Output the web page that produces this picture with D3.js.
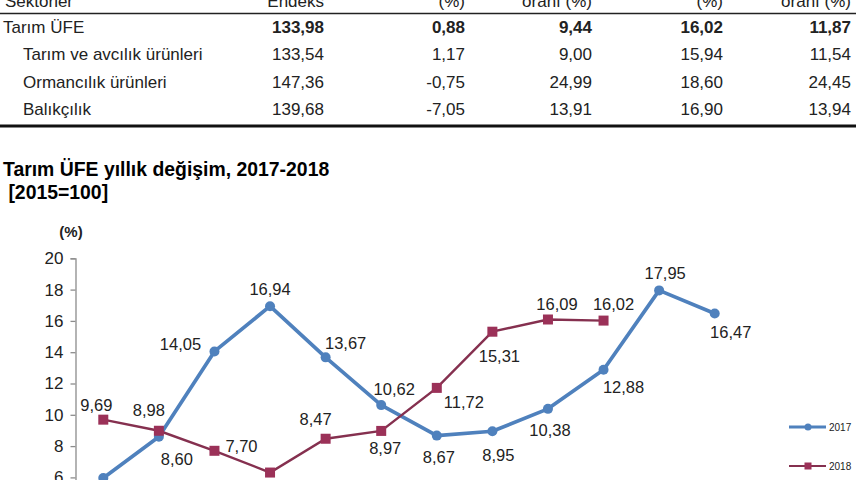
<!DOCTYPE html>
<html><head><meta charset="utf-8">
<script src="https://cdn.jsdelivr.net/npm/d3@7"></script>
<style>
html,body{margin:0;padding:0;background:#fff;overflow:hidden;}
svg{display:block;font-family:"Liberation Sans",Arial,sans-serif;}
</style></head>
<body><svg id="c" width="860" height="480"></svg>
<script>
// ---- table data ----
const tableHeaders = ["Sektörler","Endeks","(%)","oranı (%)","(%)","oranı (%)"];
const tableRows = ["Tarım ÜFE","Tarım ve avcılık ürünleri","Ormancılık ürünleri","Balıkçılık"];
const colEndeks   = ["133,98","133,54","147,36","139,68"];
const colAylik    = ["0,88","1,17","-0,75","-7,05"];
const colAralik   = ["9,44","9,00","24,99","13,91"];
const colYillik   = ["16,02","15,94","18,60","16,90"];
const colOrtalama = ["11,87","11,54","24,45","13,94"];

// ---- chart data ----
const title1 = "Tarım ÜFE yıllık değişim, 2017-2018";
const title2 = " [2015=100]";
const months = ["Ocak","Şubat","Mart","Nisan","Mayıs","Haziran","Temmuz","Ağustos","Eylül","Ekim","Kasım","Aralık"];
const values2017 = [5.96,8.60,14.05,16.94,13.67,10.62,8.67,8.95,10.38,12.88,17.95,16.47];
const values2018 = [9.69,8.98,7.70,6.31,8.47,8.97,11.72,15.31,16.09,16.02];
const yTicks = [0,2,4,6,8,10,12,14,16,18,20];
const seriesNames = ["2017","2018"];

// label placement (offsets of label centre from the point), separate from data
const off2017 = [[0,24],[18,23],[-34,-7],[0,-17],[20,-14],[13,-16],[2,22],[6,24],[2,21],[20,17],[6,-17],[16,19]];
const off2018 = [[-7,-14],[-10,-21],[27,-5],[0,24],[-10,-20],[4,17],[27,14],[7,25],[9,-15],[10,-16]];

const svg = d3.select("#c");
svg.append("rect").attr("width",860).attr("height",480).attr("fill","#fff");

// ---- table ----
const tg = svg.append("g").attr("font-size",17).attr("fill","#111");
const colEnds = [null,324,465,592,723,851];
tableHeaders.forEach((h,i)=>{
  tg.append("text").attr("x", i===0?5:colEnds[i]).attr("y",7)
    .attr("text-anchor", i===0?"start":"end").attr("fill","#222").text(h);
});
tg.append("line").attr("x1",0).attr("x2",856).attr("y1",13.5).attr("y2",13.5).attr("stroke","#222").attr("stroke-width",1.5);
const rowY = [33,60,88,115];
const cols = [colEndeks,colAylik,colAralik,colYillik,colOrtalama];
tableRows.forEach((r,ri)=>{
  tg.append("text").attr("x", ri===0?3:23).attr("y",rowY[ri]).attr("fill","#222").text(r);
  cols.forEach((col,ci)=>{
    tg.append("text").attr("x",colEnds[ci+1]).attr("y",rowY[ri]).attr("text-anchor","end")
      .attr("font-weight", ri===0?"bold":"normal").attr("fill","#222").text(col[ri]);
  });
});
tg.append("line").attr("x1",0).attr("x2",856).attr("y1",126).attr("y2",126).attr("stroke","#111").attr("stroke-width",3);

// ---- titles ----
svg.append("text").attr("x",3).attr("y",176).attr("font-size",19.4).attr("font-weight","bold").attr("fill","#000").text(title1);
svg.append("text").attr("x",3).attr("y",199).attr("font-size",19.4).attr("font-weight","bold").attr("fill","#000").attr("xml:space","preserve").style("white-space","pre").text(title2);

// ---- chart ----
const x = d3.scaleBand().domain(months).range([75.5, 742.5]).padding(0);
const y = d3.scaleLinear().domain([0,20]).range([571.3, 258.3]);
const cx = m => x(m) + x.bandwidth()/2;

svg.append("text").attr("x",71).attr("y",237).attr("text-anchor","middle").attr("font-size",15).attr("font-weight","bold").attr("fill","#222").text("(%)");

const yAxis = d3.axisLeft(y).tickValues(yTicks).tickSize(5).tickPadding(7).tickFormat(d3.format("d"));
const ga = svg.append("g").attr("transform","translate(75.5,0)").call(yAxis);
ga.select(".domain").attr("stroke","#8c8c8c").attr("stroke-width",1.3);
ga.selectAll(".tick line").attr("stroke","#8c8c8c").attr("stroke-width",1.3);
ga.selectAll(".tick text").attr("font-size",17).attr("fill","#222").attr("font-family","Liberation Sans, Arial, sans-serif");

const c17 = "#4f81bd", c18 = "#9b3158", c18line = "#85304f";
const d17 = values2017.map((v,i)=>({m:months[i],v,o:off2017[i]}));
const d18 = values2018.map((v,i)=>({m:months[i],v,o:off2018[i]}));
const line = d3.line().x(d=>cx(d.m)).y(d=>y(d.v));

svg.append("path").datum(d17).attr("d",line).attr("fill","none").attr("stroke",c17).attr("stroke-width",3.7).attr("stroke-linejoin","round");
svg.append("path").datum(d18).attr("d",line).attr("fill","none").attr("stroke",c18line).attr("stroke-width",2.4);

svg.append("g").selectAll("circle").data(d17).join("circle")
  .attr("cx",d=>cx(d.m)).attr("cy",d=>y(d.v)).attr("r",5).attr("fill",c17);
svg.append("g").selectAll("rect").data(d18).join("rect")
  .attr("x",d=>cx(d.m)-5).attr("y",d=>y(d.v)-5).attr("width",10).attr("height",10).attr("fill",c18);

const fmt = v => v.toFixed(2).replace(".",",");
[d17,d18].forEach(ds=>{
  svg.append("g").selectAll("text").data(ds).join("text")
    .attr("x",d=>cx(d.m)+d.o[0]).attr("y",d=>y(d.v)+d.o[1]).attr("dy","0.35em")
    .attr("text-anchor","middle").attr("font-size",16.5).attr("fill","#222").text(d=>fmt(d.v));
});

// ---- legend ----
const lg = svg.append("g");
const legendY = [427,466];
const legendC = [c17,c18];
const legendL = [c17,c18line];
seriesNames.forEach((n,i)=>{
  lg.append("line").attr("x1",789).attr("x2",826).attr("y1",legendY[i]).attr("y2",legendY[i]).attr("stroke",legendL[i]).attr("stroke-width",i===0?3:2.2);
  if(i===0) lg.append("circle").attr("cx",808).attr("cy",legendY[i]).attr("r",3.5).attr("fill",legendC[i]);
  else lg.append("rect").attr("x",804.5).attr("y",legendY[i]-3.5).attr("width",7).attr("height",7).attr("fill",legendC[i]);
  lg.append("text").attr("x",829).attr("y",legendY[i]).attr("dy","0.35em").attr("font-size",10).attr("fill","#222").text(n);
});
</script></body></html>
